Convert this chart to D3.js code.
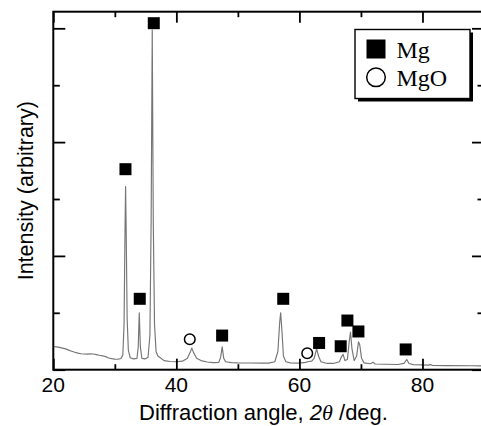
<!DOCTYPE html>
<html>
<head>
<meta charset="utf-8">
<script src="https://cdn.jsdelivr.net/npm/d3@7"></script>
<style>
  html, body { margin: 0; padding: 0; background: #fff; }
  svg { display: block; }
</style>
</head>
<body>
<svg id="chart" width="481" height="426"></svg>
<script>
// XRD pattern: diffraction angle 2θ (deg) vs. intensity (arbitrary units)
const angle = [
  20.0, 20.5, 21.0, 21.5, 22.0, 22.5, 23.0, 23.5, 24.0, 24.5, 25.0, 25.5, 26.0, 26.5,
  27.0, 27.5, 28.0, 28.5, 29.0, 29.5, 30.0, 30.5, 31.0, 31.3, 31.5, 31.65, 31.75, 31.85,
  32.0, 32.2, 32.5, 33.0, 33.6, 33.8, 33.97, 34.15, 34.4, 34.9, 35.4, 35.7, 35.9, 36.08,
  36.25, 36.45, 36.7, 37.0, 37.5, 38.0, 39.0, 40.0, 41.0, 41.8, 42.3, 42.5, 42.8, 43.3,
  44.0, 45.0, 46.0, 46.9, 47.2, 47.45, 47.7, 48.0, 49.0, 50.0, 52.0, 54.0, 55.0, 56.0,
  56.5, 56.8, 56.95, 57.15, 57.4, 57.8, 58.5, 60.0, 61.0, 61.5, 62.0, 62.4, 62.8, 63.1,
  63.5, 64.5, 65.5, 66.5, 66.8, 67.1, 67.4, 67.8, 68.1, 68.3, 68.55, 68.9, 69.3, 69.6,
  69.8, 70.1, 70.5, 71.5, 72.0, 72.3, 74.0, 76.0, 77.0, 77.45, 77.8, 78.5, 80.0, 81.0,
  81.3, 81.6, 84.0, 88.0, 90.0
];
const intensity = [
  0.205, 0.200, 0.196, 0.190, 0.183, 0.172, 0.162, 0.153, 0.146, 0.140, 0.138, 0.137, 0.139, 0.138,
  0.133, 0.127, 0.122, 0.115, 0.103, 0.097, 0.093, 0.092, 0.098, 0.130, 0.400, 1.200, 1.610, 1.200,
  0.450, 0.170, 0.105, 0.095, 0.100, 0.200, 0.500, 0.200, 0.100, 0.095, 0.110, 0.300, 1.300, 2.985,
  1.300, 0.400, 0.160, 0.120, 0.100, 0.080, 0.072, 0.070, 0.075, 0.100, 0.160, 0.190, 0.150, 0.100,
  0.080, 0.068, 0.062, 0.065, 0.110, 0.200, 0.100, 0.070, 0.062, 0.060, 0.059, 0.058, 0.058, 0.070,
  0.160, 0.420, 0.500, 0.350, 0.120, 0.070, 0.060, 0.058, 0.064, 0.072, 0.075, 0.100, 0.185, 0.120,
  0.070, 0.055, 0.055, 0.070, 0.110, 0.135, 0.080, 0.090, 0.250, 0.330, 0.180, 0.080, 0.120, 0.245,
  0.220, 0.100, 0.060, 0.052, 0.065, 0.050, 0.048, 0.046, 0.055, 0.090, 0.055, 0.045, 0.042, 0.040,
  0.045, 0.038, 0.036, 0.035, 0.034
];

// Phase markers: peak angle and the height the symbol sits at
const mgAngles   = [36.33, 31.73, 34.05, 47.44, 57.37, 63.20, 66.71, 67.80, 69.59, 77.27];
const mgHeights  = [3.045, 1.762, 0.623, 0.300, 0.623, 0.235, 0.206, 0.432, 0.336, 0.178];
const mgoAngles  = [42.18, 61.27];
const mgoHeights = [0.268, 0.144];

// Axis ticks
const xMajorTicks = [20, 40, 60, 80];
const xMinorTicks = [30, 50, 70];
const yMajorTicks = [0, 1, 2, 3];
const yMinorTicks = [0.5, 1.5, 2.5];

const legendLabels = ["Mg", "MgO"];

const svg = d3.select("#chart");
const plotLeft = 53.3, plotRight = 484, plotTop = 11.7, plotBottom = 369.7;

const x = d3.scaleLinear().domain([20, 90]).range([plotLeft, plotRight]);
const y = d3.scaleLinear().domain([0, 3.146]).range([plotBottom, plotTop]);

// Spectrum
const pts = angle.map((a, i) => [a, intensity[i]]);
svg.append("path")
  .datum(pts)
  .attr("fill", "none")
  .attr("stroke", "#757575")
  .attr("stroke-width", 1.15)
  .attr("stroke-linejoin", "round")
  .attr("d", d3.line().x(d => x(d[0])).y(d => y(d[1])));

// Frame and ticks built from d3 axes (ticks point inward)
const major = 11, minor = 5.5;
function noLabels(g) { g.selectAll("text").remove(); g.select(".domain").remove(); }

svg.append("g").attr("transform", `translate(0,${plotBottom})`)
  .call(d3.axisTop(x).tickValues(xMajorTicks).tickSizeInner(major).tickSizeOuter(0)).call(noLabels);
svg.append("g").attr("transform", `translate(0,${plotBottom})`)
  .call(d3.axisTop(x).tickValues(xMinorTicks).tickSizeInner(minor).tickSizeOuter(0)).call(noLabels);
svg.append("g").attr("transform", `translate(0,${plotTop})`)
  .call(d3.axisBottom(x).tickValues(xMajorTicks).tickSizeInner(major).tickSizeOuter(0)).call(noLabels);
svg.append("g").attr("transform", `translate(0,${plotTop})`)
  .call(d3.axisBottom(x).tickValues(xMinorTicks).tickSizeInner(minor).tickSizeOuter(0)).call(noLabels);
svg.append("g").attr("transform", `translate(${plotLeft},0)`)
  .call(d3.axisRight(y).tickValues(yMajorTicks).tickSizeInner(major + 1).tickSizeOuter(0)).call(noLabels);
svg.append("g").attr("transform", `translate(${plotLeft},0)`)
  .call(d3.axisRight(y).tickValues(yMinorTicks).tickSizeInner(minor + 1).tickSizeOuter(0)).call(noLabels);
svg.append("g").attr("transform", `translate(${plotRight},0)`)
  .call(d3.axisLeft(y).tickValues(yMajorTicks).tickSizeInner(major + 1).tickSizeOuter(0)).call(noLabels);
svg.append("g").attr("transform", `translate(${plotRight},0)`)
  .call(d3.axisLeft(y).tickValues(yMinorTicks).tickSizeInner(minor + 1).tickSizeOuter(0)).call(noLabels);
svg.selectAll(".tick line").attr("stroke", "#000").attr("stroke-width", 1.8);

svg.append("rect")
  .attr("x", plotLeft).attr("y", plotTop)
  .attr("width", plotRight - plotLeft).attr("height", plotBottom - plotTop)
  .attr("fill", "none").attr("stroke", "#000").attr("stroke-width", 2);

// Tick labels
svg.append("g").selectAll("text")
  .data(xMajorTicks).join("text")
  .attr("x", d => x(d)).attr("y", 391.5)
  .attr("text-anchor", "middle")
  .attr("font-family", "Liberation Sans, Arial, sans-serif")
  .attr("font-size", 21)
  .text(d => d);

// Axis titles
const xt = svg.append("text")
  .attr("x", 263.5).attr("y", 420)
  .attr("text-anchor", "middle")
  .attr("font-family", "Liberation Sans, Arial, sans-serif")
  .attr("font-size", 22);
xt.append("tspan").text("Diffraction angle, ");
xt.append("tspan").attr("font-style", "italic").text("2");
xt.append("tspan").attr("font-style", "italic").attr("font-family", "Liberation Serif, Times New Roman, serif").text("θ");
xt.append("tspan").text(" /deg.");

svg.append("text")
  .attr("transform", "translate(32.5,190.7) rotate(-90)")
  .attr("text-anchor", "middle")
  .attr("font-family", "Liberation Sans, Arial, sans-serif")
  .attr("font-size", 21.5)
  .text("Intensity (arbitrary)");

// Phase markers
const sq = 12;
svg.append("g").selectAll("rect")
  .data(mgAngles.map((a, i) => [a, mgHeights[i]])).join("rect")
  .attr("x", d => x(d[0]) - sq / 2).attr("y", d => y(d[1]) - sq / 2)
  .attr("width", sq).attr("height", sq)
  .attr("fill", "#000");
svg.append("g").selectAll("circle")
  .data(mgoAngles.map((a, i) => [a, mgoHeights[i]])).join("circle")
  .attr("cx", d => x(d[0])).attr("cy", d => y(d[1]))
  .attr("r", 5.3)
  .attr("fill", "#fff").attr("stroke", "#000").attr("stroke-width", 1.5);

// Legend box with drop shadow
const lg = svg.append("g").attr("transform", "translate(355,29.5)");
lg.append("rect").attr("x", 3).attr("y", 3).attr("width", 115).attr("height", 69).attr("fill", "#000");
lg.append("rect").attr("x", 0).attr("y", 0).attr("width", 115).attr("height", 69)
  .attr("fill", "#fff").attr("stroke", "#000").attr("stroke-width", 1.4);
lg.append("rect").attr("x", 11.5).attr("y", 10).attr("width", 19).attr("height", 19).attr("fill", "#000");
lg.append("circle").attr("cx", 21).attr("cy", 47.8).attr("r", 9.3)
  .attr("fill", "none").attr("stroke", "#000").attr("stroke-width", 1.5);
lg.selectAll("text.lab").data(legendLabels).join("text")
  .attr("class", "lab")
  .attr("x", 41.5).attr("y", (d, i) => 28.2 + i * 28.5)
  .attr("font-family", "Liberation Serif, Times New Roman, serif")
  .attr("font-size", 24)
  .text(d => d);
</script>
</body>
</html>
